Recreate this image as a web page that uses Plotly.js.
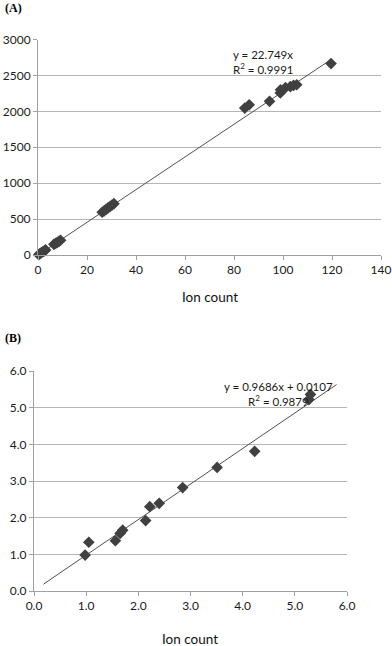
<!DOCTYPE html>
<html>
<head>
<meta charset="utf-8">
<script src="https://cdn.plot.ly/plotly-3.0.1.min.js"></script>
<style>
  html, body { margin: 0; padding: 0; background: #fff; }
  #chart { width: 392px; height: 646px; }
</style>
</head>
<body>
<div id="chart"></div>
<script>
// Panel A: ion count vs amount
const ionCountA = [0.3, 0.8, 1.4, 2.0, 2.6, 3.1, 6.5, 7.2, 7.9, 8.6, 9.2,
    26.2, 27.0, 27.8, 28.6, 29.4, 30.2, 31.0,
    84.4, 86.2, 94.5, 98.9, 99.0, 101.0, 103.0, 104.3, 105.6, 119.6];
const valuesA = [5, 18, 32, 45, 58, 70, 148, 162, 176, 190, 205,
    595, 615, 635, 655, 675, 695, 715,
    2045, 2090, 2140, 2255, 2300, 2330, 2345, 2360, 2370, 2665];
const trendAx = [0, 119.8];
const trendAy = [0, 2725];
const eqA = 'y = 22.749x<br>R<sup>2</sup> = 0.9991';

// Panel B
const ionCountB = [0.98, 1.05, 1.56, 1.65, 1.70, 2.14, 2.22, 2.40, 2.85, 3.51, 4.23, 5.27, 5.30];
const valuesB = [0.98, 1.33, 1.37, 1.57, 1.66, 1.92, 2.30, 2.39, 2.82, 3.37, 3.81, 5.22, 5.36];
const trendBx = [0.18, 5.8];
const trendBy = [0.185, 5.63];
const eqB = 'y = 0.9686x + 0.0107<br>R<sup>2</sup> = 0.9879';

const W = 392, H = 646;
const px = v => v / W;
const py = v => 1 - v / H;

const markerStyle = {symbol: 'diamond', size: 9, color: '#404040'};
const lineStyle = {color: '#505050', width: 1};
const tickFont = {family: 'Lato, "Open Sans", sans-serif', size: 12, color: '#1a1a1a'};

const data = [
    {x: trendAx, y: trendAy, mode: 'lines', line: lineStyle, xaxis: 'x', yaxis: 'y', hoverinfo: 'skip'},
    {x: ionCountA, y: valuesA, mode: 'markers', marker: markerStyle, cliponaxis: false, xaxis: 'x', yaxis: 'y'},
    {x: trendBx, y: trendBy, mode: 'lines', line: lineStyle, xaxis: 'x2', yaxis: 'y2', hoverinfo: 'skip'},
    {x: ionCountB, y: valuesB, mode: 'markers', marker: markerStyle, cliponaxis: false, xaxis: 'x2', yaxis: 'y2'}
];

function axis(extra) {
    return Object.assign({
        showline: true, linecolor: '#a0a0a0', linewidth: 1,
        ticks: 'outside', ticklen: 4, tickcolor: '#a0a0a0',
        tickfont: tickFont, zeroline: false, fixedrange: true
    }, extra);
}

const annFont = {family: 'Lato, "Open Sans", sans-serif', size: 11.5, color: '#1a1a1a'};
const layout = {
    width: W, height: H,
    margin: {l: 0, r: 0, t: 0, b: 0},
    paper_bgcolor: '#fff', plot_bgcolor: '#fff',
    showlegend: false,
    xaxis: axis({domain: [px(38), px(381)], range: [0, 140], dtick: 20, showgrid: false, anchor: 'y'}),
    yaxis: axis({domain: [py(255), py(39.5)], range: [0, 3000], dtick: 500, showgrid: true, gridcolor: '#b5b5b5', anchor: 'x'}),
    xaxis2: axis({domain: [px(34), px(347)], range: [0, 6], dtick: 1, tickformat: '.1f', showgrid: false, anchor: 'y2'}),
    yaxis2: axis({domain: [py(591), py(371)], range: [0, 6], dtick: 1, tickformat: '.1f', showgrid: true, gridcolor: '#b5b5b5', anchor: 'x2'}),
    annotations: [
        {text: '<b>(A)</b>', xref: 'paper', yref: 'paper', x: px(3), y: py(8), xanchor: 'left', yanchor: 'middle', showarrow: false,
         font: {family: '"Liberation Serif", serif', size: 12, color: '#000'}},
        {text: '<b>(B)</b>', xref: 'paper', yref: 'paper', x: px(3), y: py(338), xanchor: 'left', yanchor: 'middle', showarrow: false,
         font: {family: '"Liberation Serif", serif', size: 12, color: '#000'}},
        {text: eqA, xref: 'paper', yref: 'paper', x: px(231), y: py(62), xanchor: 'left', yanchor: 'middle', align: 'left', showarrow: false, font: annFont},
        {text: eqB, xref: 'paper', yref: 'paper', x: px(278), y: py(394), xanchor: 'center', yanchor: 'middle', align: 'center', showarrow: false, font: annFont},
        {text: 'Ion count', xref: 'paper', yref: 'paper', x: px(210), y: py(297), xanchor: 'center', yanchor: 'middle', showarrow: false,
         font: {family: 'Lato, "Open Sans", sans-serif', size: 13.5, color: '#111'}},
        {text: 'Ion count', xref: 'paper', yref: 'paper', x: px(190), y: py(639), xanchor: 'center', yanchor: 'middle', showarrow: false,
         font: {family: 'Lato, "Open Sans", sans-serif', size: 13.5, color: '#111'}}
    ]
};

Plotly.newPlot('chart', data, layout, {staticPlot: true});
</script>
</body>
</html>
